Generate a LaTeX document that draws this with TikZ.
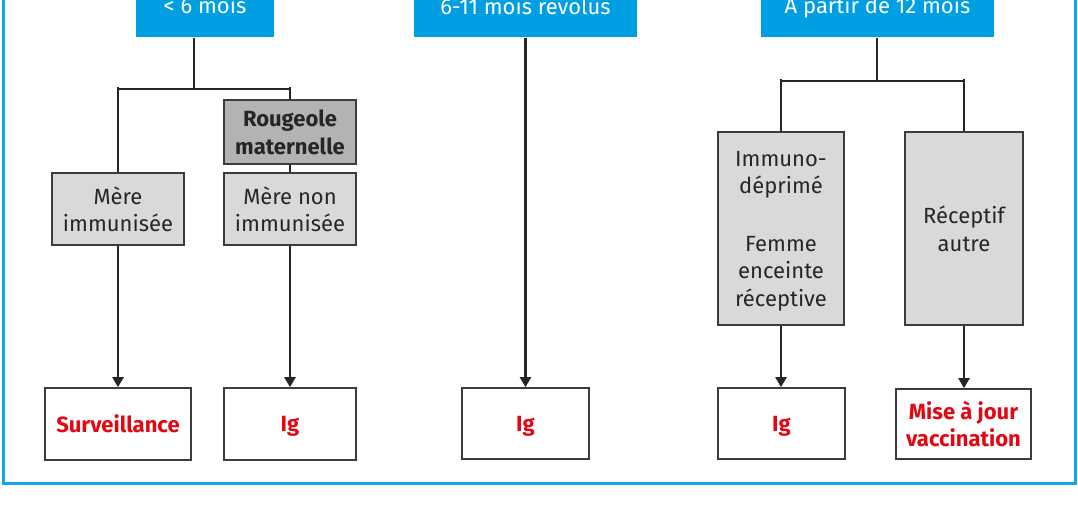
\documentclass[tikz,border=0pt]{standalone}
\usepackage{fontspec}
\setmainfont{Fira Sans}
\usetikzlibrary{arrows.meta}
\definecolor{hblue}{HTML}{009FE3}
\definecolor{fblue}{HTML}{14A6E1}
\definecolor{rred}{HTML}{E30613}
\definecolor{lgray}{HTML}{D9D9D9}
\definecolor{dgray}{HTML}{B3B3B3}
\definecolor{bordc}{HTML}{3C3C3C}
\definecolor{linec}{HTML}{262626}
\definecolor{txt}{HTML}{262626}
\newcommand{\gfont}{\fontsize{22}{27.5}\selectfont}
\newcommand{\rfont}{\fontsize{22}{27.5}\selectfont\bfseries}
\begin{document}
\begin{tikzpicture}[x=1pt,y=-1pt,
  box/.style={draw=bordc, line width=1.6pt, align=center, inner sep=0pt, text=txt, font=\gfont, text depth=0pt},
  graybox/.style={box, fill=lgray},
  darkbox/.style={box, fill=dgray, font=\gfont\bfseries},
  resbox/.style={box, fill=white, text=rred, font=\rfont},
  hdr/.style={fill=hblue, text=white, inner sep=0pt, font=\gfont, minimum height=64pt},
  conn/.style={draw=linec, line width=2.2pt},
  arr/.style={conn, -{Triangle[length=10pt,width=11pt]}}]
\useasboundingbox (0,0) rectangle (1078,516);
\clip (0,0) rectangle (1078,516);
\fill[white] (0,0) rectangle (1078,516);
% frame
\draw[fblue, line width=3pt] (3,-20) rectangle (1075,483);
% headers
\node[hdr, minimum width=138pt] (h1) at (205,5.5) {< 6 mois};
\node[hdr, minimum width=223pt] (h2) at (525.5,5.5) {6-11 mois révolus};
\node[hdr, minimum width=233pt] (h3) at (877.5,5.5) {À partir de 12 mois};
% left column boxes
\node[graybox, minimum width=132pt, minimum height=72pt] (mi) at (118,209) {Mère\\immunisée};
\node[darkbox, minimum width=132pt, minimum height=64pt] (rm) at (290,132) {Rougeole\\maternelle};
\node[graybox, minimum width=132pt, minimum height=72pt] (mn) at (290,209) {Mère non\\immunisée};
\node[resbox, minimum width=146pt, minimum height=72pt] (s1) at (118,424) {Surveillance};
\node[resbox, minimum width=132pt, minimum height=72pt] (ig1) at (290,424) {Ig};
% middle
\node[resbox, minimum width=127pt, minimum height=71pt] (ig2) at (525.5,423.5) {Ig};
% right
\node[graybox, minimum width=126pt, minimum height=193pt] (id) at (781,228.5) {Immuno-\\déprimé\\[30pt]Femme\\enceinte\\réceptive};
\node[graybox, minimum width=118pt, minimum height=193pt] (ra) at (964,228.5) {Réceptif\\autre};
\node[resbox, minimum width=127pt, minimum height=71pt] (ig3) at (781.5,423.5) {Ig};
\node[resbox, minimum width=135pt, minimum height=70pt] (mj) at (963.5,424) {Mise à jour\\vaccination};
% left tree connectors
\coordinate (j1) at (194,89);
\coordinate (L1) at (mi.north |- j1);
\coordinate (R1) at (rm.north |- j1);
\draw[conn] ([xshift=-11pt]h1.south) -- (j1);
\draw[conn] (L1) -- (R1);
\draw[conn] ([yshift=2pt]L1) -- (mi.north);
\draw[conn] ([yshift=2pt]R1) -- (rm.north);
\draw[conn] (rm.south) -- (mn.north);
\draw[arr] (mi.south) -- (s1.north);
\draw[arr] (mn.south) -- (ig1.north);
% middle
\draw[arr] (h2.south -| ig2.north) -- (ig2.north);
% right tree connectors
\coordinate (j3) at (877,81);
\coordinate (L3) at (id.north |- j3);
\coordinate (R3) at (ra.north |- j3);
\draw[conn] (h3.south -| j3) -- (j3);
\draw[conn] (L3) -- (R3);
\draw[conn] ([yshift=2pt]L3) -- (id.north);
\draw[conn] ([yshift=2pt]R3) -- (ra.north);
\draw[arr] (id.south) -- (id.south |- ig3.north);
\draw[arr] (ra.south) -- (ra.south |- mj.north);
\end{tikzpicture}
\end{document}
